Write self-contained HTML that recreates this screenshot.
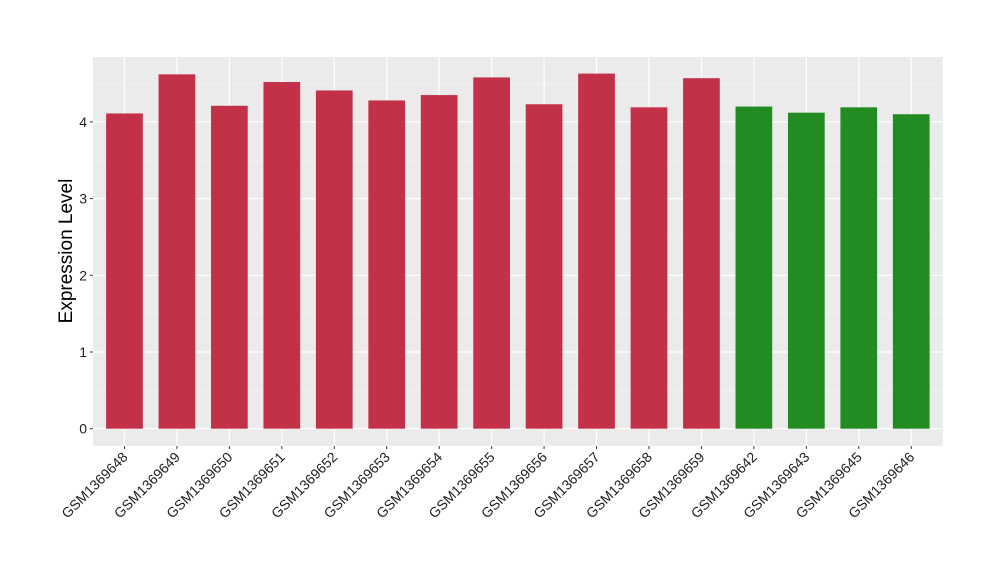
<!DOCTYPE html>
<html><head><meta charset="utf-8"><style>
body{margin:0;background:#fff;font-family:"Liberation Sans",Arial,sans-serif;}
</style></head><body>
<svg id="chart" width="1000" height="580" xmlns="http://www.w3.org/2000/svg" font-family="Liberation Sans, Arial, sans-serif">
<rect x="93" y="57" width="849.7" height="389" fill="#EBEBEB"/>
<g id="grid"></g><g id="bars"></g><g id="axes"></g>
<text transform="translate(72,251) rotate(-90)" text-anchor="middle" font-size="19" fill="#000">Expression Level</text>
</svg>
<script>
const categories=["GSM1369648","GSM1369649","GSM1369650","GSM1369651","GSM1369652","GSM1369653","GSM1369654","GSM1369655","GSM1369656","GSM1369657","GSM1369658","GSM1369659","GSM1369642","GSM1369643","GSM1369645","GSM1369646"];
const values=[4.11,4.62,4.21,4.52,4.41,4.28,4.35,4.58,4.23,4.63,4.19,4.57,4.20,4.12,4.19,4.10];
const groups=["t","t","t","t","t","t","t","t","t","t","t","t","c","c","c","c"];
const yTicks=[0,1,2,3,4];
const NS="http://www.w3.org/2000/svg";
const px0=93,px1=942.7,y0=428.7,yU=76.7;
const step=(px1-px0)/(categories.length-1+1.2);
const xS=i=>px0+step*(0.6+i);
const yS=v=>y0-v*yU;
function mk(t,a,p){const e=document.createElementNS(NS,t);for(const k in a)e.setAttribute(k,a[k]);p.appendChild(e);return e;}
const grid=document.getElementById('grid'),bars=document.getElementById('bars'),axes=document.getElementById('axes');
for(let v=-0.5;v<=4.6;v+=1){const y=yS(v);if(y<57||y>446)continue;
const l=mk('line',{x1:px0,x2:px1,y1:y,y2:y,stroke:'#F5F5F5','stroke-width':0.6},grid);

}
yTicks.forEach(v=>{const y=yS(v);
const l=mk('line',{x1:px0,x2:px1,y1:y,y2:y,stroke:'#fff','stroke-width':1.2},grid);


const t=mk('line',{x1:px0-3,x2:px0,y1:y,y2:y,stroke:'#333','stroke-width':1},axes);


const tx=mk('text',{x:px0-6,y:y+5,'text-anchor':'end','font-size':14,fill:'#222'},axes);
tx.textContent=v;

});
categories.forEach((c,i)=>{const x=xS(i);
const g=mk('line',{x1:x,x2:x,y1:57,y2:446,stroke:'#fff','stroke-width':1.2},grid);


const w=step*0.7;
const b=mk('rect',{x:x-w/2,y:yS(values[i]),width:w,height:y0-yS(values[i]),fill:groups[i]==='t'?'#C33149':'#228B22'},bars);


const t=mk('line',{x1:x,x2:x,y1:446,y2:449,stroke:'#333','stroke-width':1},axes);


const tx=mk('text',{transform:`translate(${x+4},${458}) rotate(-45)`,'text-anchor':'end','font-size':14,fill:'#222'},axes);
tx.textContent=c;

});
</script>
</body></html>
